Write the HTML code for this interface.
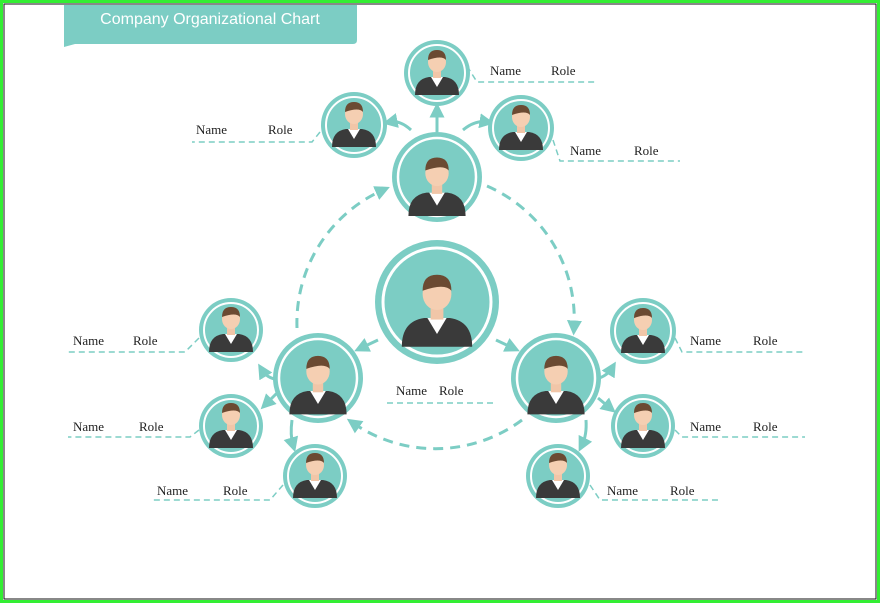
<!DOCTYPE html>
<html><head><meta charset="utf-8"><style>
html,body{margin:0;padding:0;background:#fff}
svg{display:block}
text{font-family:"Liberation Serif",serif;font-size:13px;fill:#222}
</style></head><body>
<svg width="880" height="603" viewBox="0 0 880 603" xmlns="http://www.w3.org/2000/svg">
<defs>
<marker id="ar" viewBox="0 0 10 10" refX="5" refY="5" markerWidth="5" markerHeight="5" orient="auto-start-reverse"><path d="M0,0 L10,5 L0,10 z" fill="#7ccdc4"/></marker>
<g id="person">
<path d="M-22,22 Q-22,6 -8,4 L8,4 Q22,6 22,22 Z" fill="#3a3a3a"/>
<path d="M-6,4 L0,14 L6,4 Z" fill="#fff"/>
<rect x="-4" y="-4" width="8" height="9" fill="#f1c6a8"/>
<ellipse cx="0" cy="-11" rx="9" ry="10" fill="#f5cfb2"/>
<path d="M-9,-13 Q-9,-23 0,-23 Q9,-23 9,-13 Q5,-18 -9,-13Z" fill="#6b4a32"/>
</g>
</defs>
<rect x="1.5" y="1.5" width="877" height="600" fill="none" stroke="#33ee33" stroke-width="3"/>
<rect x="4" y="4" width="872" height="595" fill="none" stroke="#111" stroke-width="1"/>
<!-- title -->
<path d="M64,5 H357 V40 Q357,44 353,44 H75 L64,47 Z" fill="#7ccdc4"/>
<text x="210" y="24" text-anchor="middle" style="font-family:'Liberation Sans',sans-serif;font-size:16px;fill:#fff">Company Organizational Chart</text>
<!-- big dashed loop -->
<g fill="none" stroke="#7ccdc4" stroke-width="3" stroke-dasharray="10,7">
<path d="M297,328 A145,145 0 0 1 383,190" marker-end="url(#ar)"/>
<path d="M487,186 A145,145 0 0 1 574,328" marker-end="url(#ar)"/>
<path d="M522,420 A145,145 0 0 1 353,423" marker-end="url(#ar)"/>
</g>
<!-- solid short arrows -->
<g fill="none" stroke="#7ccdc4" stroke-width="3" marker-end="url(#ar)">
<path d="M437,132 L437,110"/>
<path d="M411,130 Q400,120 390,122"/>
<path d="M463,130 Q475,120 487,122"/>
<path d="M378,340 L361,348"/>
<path d="M496,340 L513,348"/>
<path d="M283,380 Q268,380 262,370"/>
<path d="M278,392 L266,404"/>
<path d="M292,420 Q290,435 293,445"/>
<path d="M591,380 Q606,378 612,368"/>
<path d="M598,398 L610,408"/>
<path d="M586,420 Q587,435 582,445"/>
</g>
<!-- circles -->
<g>
<g transform="translate(437,177)"><circle r="45" fill="#7ccdc4"/><circle r="39" fill="none" stroke="#fff" stroke-width="2.5"/><g transform="scale(1.3) translate(0,8)"><use href="#person"/></g></g>
<g transform="translate(437,73)"><circle r="33" fill="#7ccdc4"/><circle r="28" fill="none" stroke="#fff" stroke-width="2"/><use href="#person"/></g>
<g transform="translate(354,125)"><circle r="33" fill="#7ccdc4"/><circle r="28" fill="none" stroke="#fff" stroke-width="2"/><use href="#person"/></g>
<g transform="translate(521,128)"><circle r="33" fill="#7ccdc4"/><circle r="28" fill="none" stroke="#fff" stroke-width="2"/><use href="#person"/></g>
<g transform="translate(437,302)"><circle r="62" fill="#7ccdc4"/><circle r="54" fill="none" stroke="#fff" stroke-width="3"/><g transform="scale(1.6) translate(0,6)"><use href="#person"/></g></g>
<g transform="translate(318,378)"><circle r="45" fill="#7ccdc4"/><circle r="39" fill="none" stroke="#fff" stroke-width="2.5"/><g transform="scale(1.3) translate(0,6)"><use href="#person"/></g></g>
<g transform="translate(556,378)"><circle r="45" fill="#7ccdc4"/><circle r="39" fill="none" stroke="#fff" stroke-width="2.5"/><g transform="scale(1.3) translate(0,6)"><use href="#person"/></g></g>
<g transform="translate(231,330)"><circle r="32" fill="#7ccdc4"/><circle r="27" fill="none" stroke="#fff" stroke-width="2"/><use href="#person"/></g>
<g transform="translate(231,426)"><circle r="32" fill="#7ccdc4"/><circle r="27" fill="none" stroke="#fff" stroke-width="2"/><use href="#person"/></g>
<g transform="translate(315,476)"><circle r="32" fill="#7ccdc4"/><circle r="27" fill="none" stroke="#fff" stroke-width="2"/><use href="#person"/></g>
<g transform="translate(643,331)"><circle r="33" fill="#7ccdc4"/><circle r="28" fill="none" stroke="#fff" stroke-width="2"/><use href="#person"/></g>
<g transform="translate(643,426)"><circle r="32" fill="#7ccdc4"/><circle r="27" fill="none" stroke="#fff" stroke-width="2"/><use href="#person"/></g>
<g transform="translate(558,476)"><circle r="32" fill="#7ccdc4"/><circle r="27" fill="none" stroke="#fff" stroke-width="2"/><use href="#person"/></g>
</g>
<!-- labels -->
<g fill="none" stroke="#7ccdc4" stroke-width="1.5" stroke-dasharray="6,4">
<path d="M467,66 L477,82 H597"/>
<path d="M320,132 L312,142 H192"/>
<path d="M553,140 L560,161 H680"/>
<path d="M199,338 L185,352 H68"/>
<path d="M199,430 L190,437 H68"/>
<path d="M283,485 L270,500 H152"/>
<path d="M675,338 L682,352 H805"/>
<path d="M675,430 L682,437 H805"/>
<path d="M590,485 L600,500 H720"/>
<path d="M387,403 H497"/>
</g>
<text x="490" y="75">Name</text><text x="551" y="75">Role</text>
<text x="196" y="134">Name</text><text x="268" y="134">Role</text>
<text x="570" y="155">Name</text><text x="634" y="155">Role</text>
<text x="73" y="345">Name</text><text x="133" y="345">Role</text>
<text x="73" y="431">Name</text><text x="139" y="431">Role</text>
<text x="157" y="495">Name</text><text x="223" y="495">Role</text>
<text x="690" y="345">Name</text><text x="753" y="345">Role</text>
<text x="690" y="431">Name</text><text x="753" y="431">Role</text>
<text x="607" y="495">Name</text><text x="670" y="495">Role</text>
<text x="396" y="395">Name</text><text x="439" y="395">Role</text>
</svg>
</body></html>
